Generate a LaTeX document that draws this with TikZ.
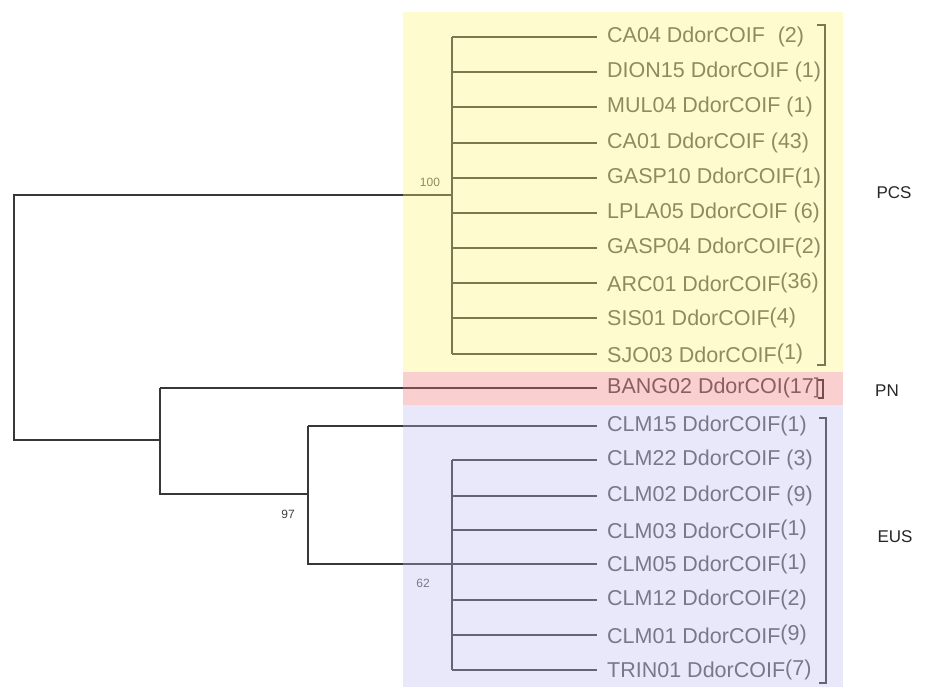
\documentclass[tikz,border=0pt]{standalone}
\usepackage{fontspec}
\setmainfont{Liberation Sans}
\definecolor{treeline}{RGB}{55,55,55}
\definecolor{leaftext}{RGB}{85,85,85}
\definecolor{ovyellow}{RGB}{252,246,116}
\definecolor{ovpink}{RGB}{240,116,116}
\definecolor{ovblue}{RGB}{188,188,240}
\tikzset{
 branch/.style={draw=treeline, line width=2pt, line join=miter},
 leaf/.style={anchor=west, inner sep=0pt, text=leaftext, font=\fontsize{21.5}{23}\selectfont},
 support/.style={inner sep=0pt, text=leaftext, font=\fontsize{12}{14}\selectfont},
 grouplab/.style={inner sep=0pt, text=black!85, font=\fontsize{17}{19}\selectfont},
 bracketline/.style={draw=treeline, line width=1.6pt},
 regionbox/.style={fill opacity=0.345, draw=none}
}
\begin{document}
\begin{tikzpicture}[x=1pt,y=-1pt]
\useasboundingbox (0,0) rectangle (925,687);
% leaves
\node[leaf] (ca04)   at (607,37)  {CA04 DdorCOIF\hspace{0.6em}(2)};
\node[leaf] (dion15) at (607,72)  {DION15 DdorCOIF (1)};
\node[leaf] (mul04)  at (607,107) {MUL04 DdorCOIF (1)};
\node[leaf] (ca01)   at (607,143) {CA01 DdorCOIF (43)};
\node[leaf] (gasp10) at (607,178) {GASP10 DdorCOIF(1)};
\node[leaf] (lpla05) at (607,213) {LPLA05 DdorCOIF (6)};
\node[leaf] (gasp04) at (607,248) {GASP04 DdorCOIF(2)};
\node[leaf] (arc01)  at (607,283) {ARC01 DdorCOIF\raisebox{3pt}{(36)}};
\node[leaf] (sis01)  at (607,318) {SIS01 DdorCOIF\raisebox{2pt}{(4)}};
\node[leaf] (sjo03)  at (607,354) {SJO03 DdorCOIF\raisebox{3pt}{(1)}};
\node[leaf] (bang02) at (607,388) {BANG02 DdorCOI(17]};
\node[leaf] (clm15)  at (607,426) {CLM15 DdorCOIF(1)};
\node[leaf] (clm22)  at (607,460) {CLM22 DdorCOIF (3)};
\node[leaf] (clm02)  at (607,496) {CLM02 DdorCOIF (9)};
\node[leaf] (clm03)  at (607,530) {CLM03 DdorCOIF\raisebox{3pt}{(1)}};
\node[leaf] (clm05)  at (607,564) {CLM05 DdorCOIF\raisebox{2pt}{(1)}};
\node[leaf] (clm12)  at (607,600) {CLM12 DdorCOIF(2)};
\node[leaf] (clm01)  at (607,635) {CLM01 DdorCOIF\raisebox{3pt}{(9)}};
\node[leaf] (trin01) at (607,670) {TRIN01 DdorCOIF\raisebox{2pt}{(7)}};
% internal nodes
\coordinate (pcsn) at (452,195);
\coordinate (root) at (14,318);
\coordinate (n1) at (160,440);
\coordinate (n2) at (308,494);
\coordinate (n3) at (452,564);
% PCS clade
\draw[branch] (pcsn |- ca04.west) -- (pcsn |- sjo03.west);
\foreach \t in {ca04,dion15,mul04,ca01,gasp10,lpla05,gasp04,arc01,sis01,sjo03}
  \draw[branch] (pcsn |- \t.west) -- ([xshift=-10pt]\t.west);
% root
\draw[branch] (pcsn) -| (root |- n1) -- (n1);
% n1
\draw[branch] (n1 |- bang02.west) -- (n1 |- n2) -- (n2);
\draw[branch] (n1 |- bang02.west) -- ([xshift=-10pt]bang02.west);
% n2
\draw[branch] (n2 |- clm15.west) -- (n2 |- n3) -- (n3);
\draw[branch] (n2 |- clm15.west) -- ([xshift=-10pt]clm15.west);
% n3
\draw[branch] (n3 |- clm22.west) -- (n3 |- trin01.west);
\foreach \t in {clm22,clm02,clm03,clm05,clm12,clm01,trin01}
  \draw[branch] (n3 |- \t.west) -- ([xshift=-10pt]\t.west);
% supports
\node[support] (s100) at (430,182) {100};
\node[support, text=black!75] (s97) at (288,514) {97};
\node[support] (s62) at (423,583) {62};
% brackets
\coordinate (bpa) at (825,25);
\coordinate (bpb) at (825,365);
\draw[bracketline] ([xshift=-8pt]bpa) -- (bpa) -- (bpb) -- ([xshift=-8pt]bpb);
\coordinate (bna) at (823,380);
\coordinate (bnb) at (823,398);
\draw[bracketline] ([xshift=-5pt]bna) -- (bna) -- (bnb) -- ([xshift=-5pt]bnb);
\coordinate (bea) at (826,418);
\coordinate (beb) at (826,683);
\draw[bracketline] ([xshift=-7pt]bea) -- (bea) -- (beb) -- ([xshift=-7pt]beb);
% region overlays
\fill[regionbox, ovyellow] (403,12) rectangle (843,372);
\fill[regionbox, ovpink] (403,372) rectangle (843,405);
\fill[regionbox, ovblue] (403,405) rectangle (843,687);
% group labels
\node[grouplab] (pcs) at (894,193) {PCS};
\node[grouplab] (pn)  at (887,391) {PN};
\node[grouplab] (eus) at (895,537) {EUS};
\end{tikzpicture}
\end{document}
